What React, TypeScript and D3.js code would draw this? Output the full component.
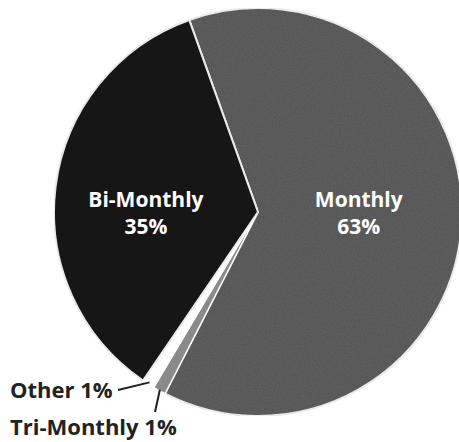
import React from "react";
import * as d3 from "d3";

const categories = ["Monthly", "Tri-Monthly", "Other", "Bi-Monthly"];
const values = [63, 1, 1, 35];
const percentLabels = ["63%", "1%", "1%", "35%"];
const colors = ["#646464", "#8a8a8a", "#ffffff", "#1c1c1c"];

const W = 459;
const H = 442;
const cx = 258;
const cy = 212;
const R = 204;
const startDeg = -19.7;

export default function App() {
  const pie = d3
    .pie<number>()
    .sort(null)
    .value((d) => d)
    .startAngle((startDeg * Math.PI) / 180)
    .endAngle((startDeg * Math.PI) / 180 + 2 * Math.PI);
  const arcs = pie(values);
  const arc = d3.arc<d3.PieArcDatum<number>>().innerRadius(0).outerRadius(R);
  const mid = (a: d3.PieArcDatum<number>) => (a.startAngle + a.endAngle) / 2;

  const font = "'Open Sans', 'DejaVu Sans', sans-serif";

  const inside = [0, 3].map((i) => {
    const a = arcs[i];
    const m = mid(a);
    const r = i === 0 ? 101 : 113;
    const x = Math.sin(m) * r;
    return { i, x };
  });

  const Other = arcs[2];
  const Tri = arcs[1];
  const edge = (a: d3.PieArcDatum<number>, r: number) => [
    Math.sin(mid(a)) * r,
    -Math.cos(mid(a)) * r,
  ];
  const oE = edge(Other, R - 2);
  const tE = edge(Tri, R - 1);

  return (
    <svg
      width={W}
      height={H}
      style={{ position: "absolute", left: 0, top: 0, background: "#fff" }}
    >
      <defs>
        <filter id="grain" x="0" y="0" width="100%" height="100%">
          <feTurbulence type="fractalNoise" baseFrequency="0.9" numOctaves="2" seed="3" result="n" />
          <feColorMatrix
            in="n"
            type="matrix"
            values="0 0 0 0 0  0 0 0 0 0  0 0 0 0 0  0 0 0 0.35 0"
            result="a"
          />
          <feComposite in="a" in2="SourceGraphic" operator="in" result="c" />
          <feMerge>
            <feMergeNode in="SourceGraphic" />
            <feMergeNode in="c" />
          </feMerge>
        </filter>
      </defs>
      <g transform={`translate(${cx},${cy})`}>
        {arcs.map((a, i) => (
          <path
            key={categories[i]}
            d={arc(a) || ""}
            fill={colors[i]}
            stroke="#fff"
            strokeWidth={i === 1 || i === 2 ? 1.2 : 2}
            filter={i === 0 || i === 3 ? "url(#grain)" : undefined}
          />
        ))}
        {inside.map(({ i, x }) => (
          <text
            key={categories[i]}
            x={x}
            textAnchor="middle"
            fill="#fff"
            fontFamily={font}
            fontWeight={700}
            fontSize={21}
          >
            <tspan x={x} y={-5}>{categories[i]}</tspan>
            <tspan x={x} y={22}>{percentLabels[i]}</tspan>
          </text>
        ))}
        <line
          x1={oE[0]}
          y1={oE[1]}
          x2={118 - cx}
          y2={390 - cy}
          stroke="#222"
          strokeWidth={2}
        />
        <line
          x1={tE[0]}
          y1={tE[1]}
          x2={155 - cx}
          y2={412 - cy}
          stroke="#222"
          strokeWidth={2}
        />
      </g>
      <text x={10} y={398} fill="#222" fontFamily={font} fontWeight={700} fontSize={22}>
        {`${categories[2]} ${percentLabels[2]}`}
      </text>
      <text x={10} y={435} fill="#222" fontFamily={font} fontWeight={700} fontSize={22}>
        {`${categories[1]} ${percentLabels[1]}`}
      </text>
    </svg>
  );
}
